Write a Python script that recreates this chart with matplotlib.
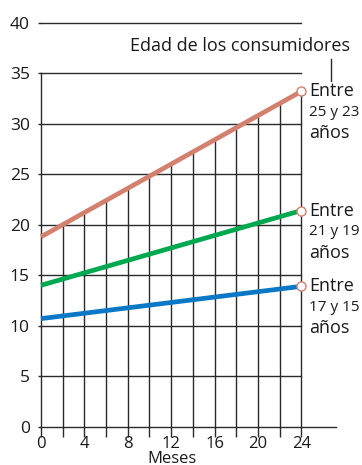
import numpy as np
import matplotlib
matplotlib.use('Agg')
import matplotlib.pyplot as plt

plt.rcParams['font.family'] = ['Open Sans', 'DejaVu Sans']

# Months on the x axis and the three consumer age groups
months = [0, 24]
group_labels = ['Entre\n25 y 23\naños', 'Entre\n21 y 19\naños', 'Entre\n17 y 15\naños']
group_values = [
    [18.8, 33.2],   # 25-23
    [14.0, 21.4],   # 21-19
    [10.7, 13.9],   # 17-15
]
group_colors = ['#d4806e', '#00a84f', '#0a78c6']

x_ticks = [0, 4, 8, 12, 16, 20, 24]
x_grid = np.arange(0, 25, 2)
y_ticks = [0, 5, 10, 15, 20, 25, 30, 35, 40]

INK = '#1a1a1a'
GRID = '#2a2a2a'
FS = 13

W, H = 362, 465
fig = plt.figure(figsize=(W / 100, H / 100), dpi=100)
# axes box: x 0..24 -> px 41..301, y 0..40 -> px 427..23 (from top)
ax = fig.add_axes([41 / W, (H - 426.7) / H, (301.3 - 41) / W, (426.7 - 22.7) / H])
ax.set_xlim(0, 24)
ax.set_ylim(0, 40)
for s in ax.spines.values():
    s.set_visible(False)

# horizontal grid
for y in y_ticks[1:]:
    ax.plot([0, 24], [y, y], color=GRID, lw=1.0, clip_on=False, zorder=1)
# x axis runs past the last month
ax.plot([0, 27.2], [0, 0], color=GRID, lw=1.0, clip_on=False, zorder=1)
# y axis stops at 35
ax.plot([0, 0], [0, 35], color=GRID, lw=1.0, clip_on=False, zorder=1)

# vertical grid rises up to the top series
top = group_values[0]
for x in x_grid[1:]:
    ax.plot([x, x], [0, np.interp(x, months, top)], color=GRID, lw=1.0,
            clip_on=False, zorder=1)

ax.set_xticks(x_grid)
ax.set_xticklabels([str(x) if x in x_ticks else '' for x in x_grid])
ax.set_yticks(y_ticks)
ax.tick_params(axis='x', length=7, width=1.0, color=GRID, pad=0,
               labelsize=12, labelcolor=INK)
ax.tick_params(axis='y', length=2, width=1.0, color=GRID, pad=6,
               labelsize=12.5, labelcolor=INK)

line_step = 2.08  # ~21 px between label lines
line_sizes = [FS, 11, FS]  # the age range line is set a bit smaller
for vals, col, lab in zip(group_values, group_colors, group_labels):
    ax.plot(months, vals, color=col, lw=3.4, solid_capstyle='butt',
            clip_on=False, zorder=3)
    ax.plot(months[-1], vals[-1], 'o', ms=6.5, mfc='white', mec='#d4806e',
            mew=1.0, clip_on=False, zorder=4)
    for k, part in enumerate(lab.split('\n')):
        ax.text(24.75, vals[-1] - k * line_step, part, ha='left', va='center',
                fontsize=line_sizes[k], color=INK, clip_on=False)

ax.text(18.35, 37.7, 'Edad de los consumidores', ha='center', va='center',
        fontsize=FS, color=INK)
ax.plot([26.75, 26.75], [34.2, 36.4], color=GRID, lw=1.0, clip_on=False)

ax.text(12.1, -3.62, 'Meses', ha='center', va='baseline', fontsize=12,
        color=INK)

fig.savefig('out.png', dpi=100)
